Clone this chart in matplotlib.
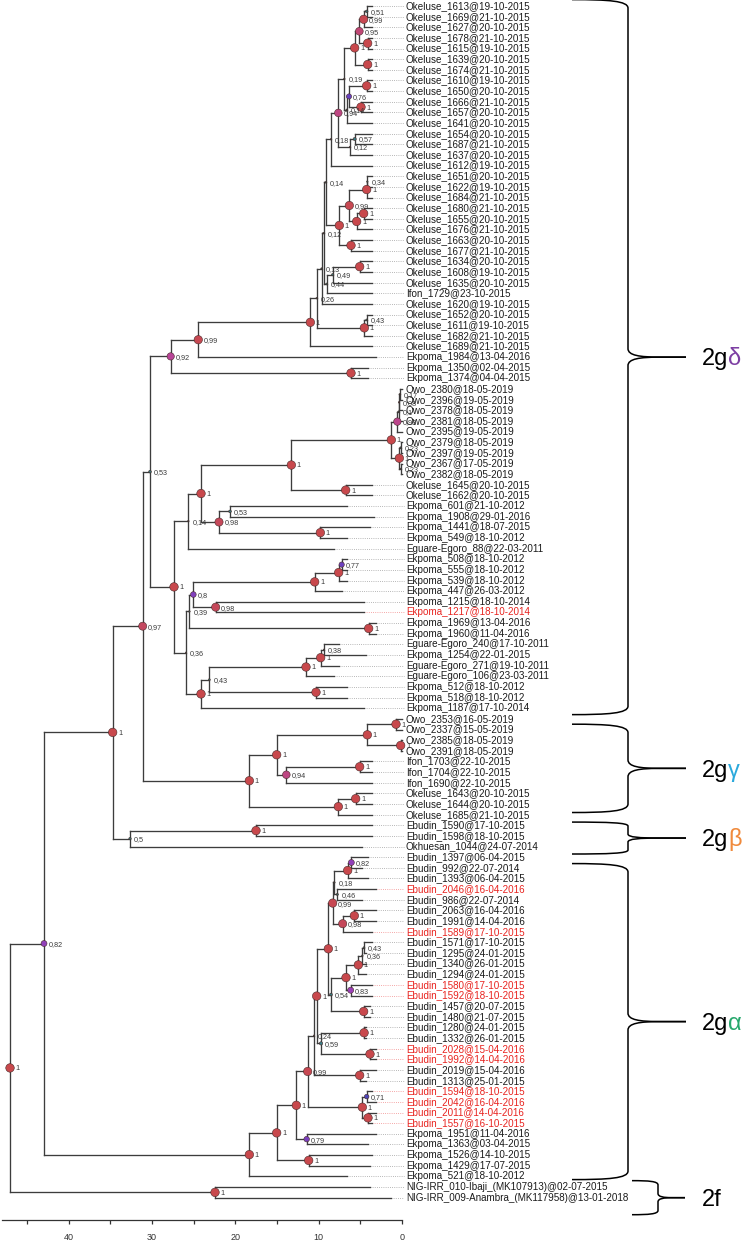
import matplotlib
matplotlib.use("Agg")
import matplotlib.pyplot as plt
import matplotlib.transforms as mtransforms
from matplotlib.collections import LineCollection
from matplotlib.colors import LinearSegmentedColormap
from matplotlib.patches import PathPatch
from matplotlib.path import Path
from datetime import date

plt.rcParams['font.family'] = ['Liberation Sans', 'DejaVu Sans']

# ---- tips, top to bottom ----
tips = [
    "Okeluse_1613@19-10-2015", "Okeluse_1669@21-10-2015", "Okeluse_1627@20-10-2015",
    "Okeluse_1678@21-10-2015", "Okeluse_1615@19-10-2015", "Okeluse_1639@20-10-2015",
    "Okeluse_1674@21-10-2015", "Okeluse_1610@19-10-2015", "Okeluse_1650@20-10-2015",
    "Okeluse_1666@21-10-2015", "Okeluse_1657@20-10-2015", "Okeluse_1641@20-10-2015",
    "Okeluse_1654@20-10-2015", "Okeluse_1687@21-10-2015", "Okeluse_1637@20-10-2015",
    "Okeluse_1612@19-10-2015", "Okeluse_1651@20-10-2015", "Okeluse_1622@19-10-2015",
    "Okeluse_1684@21-10-2015", "Okeluse_1680@21-10-2015", "Okeluse_1655@20-10-2015",
    "Okeluse_1676@21-10-2015", "Okeluse_1663@20-10-2015", "Okeluse_1677@21-10-2015",
    "Okeluse_1634@20-10-2015", "Okeluse_1608@19-10-2015", "Okeluse_1635@20-10-2015",
    "Ifon_1729@23-10-2015", "Okeluse_1620@19-10-2015", "Okeluse_1652@20-10-2015",
    "Okeluse_1611@19-10-2015", "Okeluse_1682@21-10-2015", "Okeluse_1689@21-10-2015",
    "Ekpoma_1984@13-04-2016", "Ekpoma_1350@02-04-2015", "Ekpoma_1374@04-04-2015",
    "Owo_2380@18-05-2019", "Owo_2396@19-05-2019", "Owo_2378@18-05-2019",
    "Owo_2381@18-05-2019", "Owo_2395@19-05-2019", "Owo_2379@18-05-2019",
    "Owo_2397@19-05-2019", "Owo_2367@17-05-2019", "Owo_2382@18-05-2019",
    "Okeluse_1645@20-10-2015", "Okeluse_1662@20-10-2015", "Ekpoma_601@21-10-2012",
    "Ekpoma_1908@29-01-2016", "Ekpoma_1441@18-07-2015", "Ekpoma_549@18-10-2012",
    "Eguare-Egoro_88@22-03-2011", "Ekpoma_508@18-10-2012", "Ekpoma_555@18-10-2012",
    "Ekpoma_539@18-10-2012", "Ekpoma_447@26-03-2012", "Ekpoma_1215@18-10-2014",
    "Ekpoma_1217@18-10-2014", "Ekpoma_1969@13-04-2016", "Ekpoma_1960@11-04-2016",
    "Eguare-Egoro_240@17-10-2011", "Ekpoma_1254@22-01-2015", "Eguare-Egoro_271@19-10-2011",
    "Eguare-Egoro_106@23-03-2011", "Ekpoma_512@18-10-2012", "Ekpoma_518@18-10-2012",
    "Ekpoma_1187@17-10-2014", "Owo_2353@16-05-2019", "Owo_2337@15-05-2019",
    "Owo_2385@18-05-2019", "Owo_2391@18-05-2019", "Ifon_1703@22-10-2015",
    "Ifon_1704@22-10-2015", "Ifon_1690@22-10-2015", "Okeluse_1643@20-10-2015",
    "Okeluse_1644@20-10-2015", "Okeluse_1685@21-10-2015", "Ebudin_1590@17-10-2015",
    "Ebudin_1598@18-10-2015", "Okhuesan_1044@24-07-2014", "Ebudin_1397@06-04-2015",
    "Ebudin_992@22-07-2014", "Ebudin_1393@06-04-2015", "Ebudin_2046@16-04-2016",
    "Ebudin_986@22-07-2014", "Ebudin_2063@16-04-2016", "Ebudin_1991@14-04-2016",
    "Ebudin_1589@17-10-2015", "Ebudin_1571@17-10-2015", "Ebudin_1295@24-01-2015",
    "Ebudin_1340@26-01-2015", "Ebudin_1294@24-01-2015", "Ebudin_1580@17-10-2015",
    "Ebudin_1592@18-10-2015", "Ebudin_1457@20-07-2015", "Ebudin_1480@21-07-2015",
    "Ebudin_1280@24-01-2015", "Ebudin_1332@26-01-2015", "Ebudin_2028@15-04-2016",
    "Ebudin_1992@14-04-2016", "Ebudin_2019@15-04-2016", "Ebudin_1313@25-01-2015",
    "Ebudin_1594@18-10-2015", "Ebudin_2042@16-04-2016", "Ebudin_2011@14-04-2016",
    "Ebudin_1557@16-10-2015", "Ekpoma_1951@11-04-2016", "Ekpoma_1363@03-04-2015",
    "Ekpoma_1526@14-10-2015", "Ekpoma_1429@17-07-2015", "Ekpoma_521@18-10-2012",
    "NIG-IRR_010-Ibaji_(MK107913)@02-07-2015", "NIG-IRR_009-Anambra_(MK117958)@13-01-2018",
]

red_tips = {
    "Ekpoma_1217@18-10-2014", "Ebudin_2046@16-04-2016", "Ebudin_1589@17-10-2015",
    "Ebudin_1580@17-10-2015", "Ebudin_1592@18-10-2015", "Ebudin_2028@15-04-2016",
    "Ebudin_1992@14-04-2016", "Ebudin_1594@18-10-2015", "Ebudin_2042@16-04-2016",
    "Ebudin_2011@14-04-2016", "Ebudin_1557@16-10-2015",
}

# ---- internal nodes: children (tip index or node id), age in years, posterior ----
node_children = {
    # 2g delta, Okeluse block
    "A": (0, 1), "B": ("A", 2), "C": (3, 4), "D": ("B", "C"), "E": (5, 6), "F": ("D", "E"),
    "G": (7, 8), "H": (9, 10), "I": ("G", "H"), "L": ("I", 11), "K": ("F", "L"),
    "N": (12, 13), "N2": ("N", 14), "P94": ("K", "N2"), "P18": ("P94", 15),
    "T": (16, 17), "R": ("T", 18), "U": (19, 20), "S": ("U", 21), "P99": ("R", "S"),
    "Q": (22, 23), "M1": ("P99", "Q"), "P14": ("P18", "M1"),
    "V": (24, 25), "P49": ("V", 26), "P44": ("P49", 27), "Y": ("P14", "P44"), "X": ("Y", 28),
    "AA": (29, 30), "Z": ("AA", 31), "W": ("X", "Z"), "BB": ("W", 32), "CC": ("BB", 33),
    "DD": (34, 35), "EE": ("CC", "DD"),
    # 2g delta, Owo / Ekpoma block
    "n3": (36, 37), "n2": ("n3", 38), "n1": ("n2", 39), "O1": ("n1", 40),
    "n4": (41, 42), "n5": (43, 44), "O2": ("n4", "n5"), "O3": ("O1", "O2"),
    "K1": (45, 46), "O4": ("O3", "K1"), "E53": (47, 48), "E1": (49, 50), "E98": ("E53", "E1"),
    "M2": ("O4", "E98"), "M14": ("M2", 51),
    "E77": (52, 53), "E1b": ("E77", 54), "E1c": ("E1b", 55), "E98b": (56, 57),
    "E8": ("E1c", "E98b"), "E1d": (58, 59), "E39": ("E8", "E1d"),
    "G38": (60, 61), "G1": ("G38", 62), "G1b": ("G1", 63), "E1e": (64, 65),
    "G43": ("G1b", "E1e"), "G1c": ("G43", 66), "M36": ("E39", "G1c"), "M1b": ("M14", "M36"),
    "R53": ("EE", "M1b"),
    # 2g gamma
    "W1": (67, 68), "W2": (69, 70), "W3": ("W1", "W2"), "I1": (71, 72), "I94": ("I1", 73),
    "W4": ("W3", "I94"), "K2": (74, 75), "K3": ("K2", 76), "GM": ("W4", "K3"),
    "R97": ("R53", "GM"),
    # 2g beta
    "B1": (77, 78), "B5": ("B1", 79), "R1": ("R97", "B5"),
    # 2g alpha
    "a82": (80, 81), "a1": ("a82", 82), "a46": (83, 84), "a18": ("a1", "a46"),
    "a1b": (85, 86), "a98": ("a1b", 87), "a99": ("a18", "a98"),
    "a43": (88, 89), "a36": ("a43", 90), "a1c": ("a36", 91), "a83": (92, 93),
    "a1d": ("a1c", "a83"), "a1e": (94, 95), "a54": ("a1d", "a1e"), "a1f": ("a99", "a54"),
    "a1g": (96, 97), "a1h": (98, 99), "a59": ("a1g", "a1h"), "a1i": ("a1f", "a59"),
    "a1j": (100, 101), "a24": ("a1i", "a1j"), "a71": (102, 103), "a1k": (104, 105),
    "a1l": ("a71", "a1k"), "a99b": ("a24", "a1l"), "a79": (106, 107), "a1m": ("a99b", "a79"),
    "a1n": (108, 109), "a1o": ("a1m", "a1n"), "a1p": ("a1o", 110),
    "R82": ("R1", "a1p"),
    # 2f
    "NIG": (111, 112), "ROOT": ("R82", "NIG"),
}

node_height = {
    "A": 4.24, "B": 4.60, "C": 4.12, "D": 5.12, "E": 4.12, "F": 5.68, "G": 4.24, "H": 4.92,
    "I": 6.36, "L": 6.64, "K": 6.92, "N": 5.68, "N2": 6.24, "P94": 7.64, "P18": 8.52,
    "T": 4.16, "R": 4.24, "U": 4.60, "S": 5.44, "P99": 6.32, "Q": 6.12, "M1": 7.52,
    "P14": 9.18, "V": 5.08, "P49": 8.32, "P44": 9.04, "Y": 9.42, "X": 9.66, "AA": 4.24,
    "Z": 4.52, "W": 10.24, "BB": 11.0, "CC": 24.45, "DD": 6.12, "EE": 27.76,
    "n3": 0.26, "n2": 0.36, "n1": 0.42, "O1": 0.56, "n4": 0.18, "n5": 0.18, "O2": 0.32,
    "O3": 1.28, "K1": 6.76, "O4": 13.28, "E53": 20.64, "E1": 9.80, "E98": 21.96,
    "M2": 24.12, "M14": 25.64, "E77": 7.24, "E1b": 7.60, "E1c": 10.48, "E98b": 22.36,
    "E8": 25.04, "E1d": 4.00, "E39": 25.52, "G38": 9.36, "G1": 9.76, "G1b": 11.52,
    "E1e": 10.32, "G43": 23.12, "G1c": 24.12, "M36": 25.92, "M1b": 27.36, "R53": 30.24,
    "W1": 0.72, "W2": 0.16, "W3": 4.16, "I1": 5.08, "I94": 13.88, "W4": 15.04,
    "K2": 5.56, "K3": 7.64, "GM": 18.32, "R97": 31.12,
    "B1": 17.52, "B5": 32.64, "R1": 34.72,
    "a82": 6.08, "a1": 6.52, "a46": 7.76, "a18": 8.12, "a1b": 5.72, "a98": 7.12,
    "a99": 8.32, "a43": 4.56, "a36": 4.76, "a1c": 5.24, "a83": 6.16, "a1d": 6.72,
    "a1e": 4.60, "a54": 8.52, "a1f": 8.84, "a1g": 4.55, "a1h": 3.84, "a59": 9.72,
    "a1i": 10.24, "a1j": 5.08, "a24": 10.56, "a71": 4.24, "a1k": 4.08, "a1l": 4.76,
    "a99b": 11.32, "a79": 11.44, "a1m": 12.68, "a1n": 11.20, "a1o": 15.04, "a1p": 18.32,
    "R82": 42.96, "NIG": 22.44, "ROOT": 47.04,
}

node_post = {
    "A": 0.51, "B": 0.99, "C": 1, "D": 0.95, "E": 1, "F": 1, "G": 1, "H": 1, "I": 0.76,
    "L": 0.14, "K": 0.19, "N": 0.57, "N2": 0.12, "P94": 0.94, "P18": 0.18, "T": 0.34,
    "R": 1, "U": 1, "S": 1, "P99": 0.99, "Q": 1, "M1": 1, "P14": 0.14, "V": 1,
    "P49": 0.49, "P44": 0.44, "Y": 0.12, "X": 0.13, "AA": 0.43, "Z": 1, "W": 0.26,
    "BB": 1, "CC": 0.99, "DD": 1, "EE": 0.92,
    "n3": 0.17, "n2": 0.08, "n1": 0.1, "O1": 0.93, "n4": 0.23, "n5": 0.23, "O2": 1,
    "O3": 1, "K1": 1, "O4": 1, "E53": 0.53, "E1": 1, "E98": 0.98, "M2": 1, "M14": 0.14,
    "E77": 0.77, "E1b": 1, "E1c": 1, "E98b": 0.98, "E8": 0.8, "E1d": 1, "E39": 0.39,
    "G38": 0.38, "G1": 1, "G1b": 1, "E1e": 1, "G43": 0.43, "G1c": 1, "M36": 0.36,
    "M1b": 1, "R53": 0.53,
    "W1": 1, "W2": 1, "W3": 1, "I1": 1, "I94": 0.94, "W4": 1, "K2": 1, "K3": 1, "GM": 1,
    "R97": 0.97, "B1": 1, "B5": 0.5, "R1": 1,
    "a82": 0.82, "a1": 1, "a46": 0.46, "a18": 0.18, "a1b": 1, "a98": 0.98, "a99": 0.99,
    "a43": 0.43, "a36": 0.36, "a1c": 1, "a83": 0.83, "a1d": 1, "a1e": 1, "a54": 0.54,
    "a1f": 1, "a1g": 1, "a1h": 1, "a59": 0.59, "a1i": 1, "a1j": 1, "a24": 0.24,
    "a71": 0.71, "a1k": 1, "a1l": 1, "a99b": 0.99, "a79": 0.79, "a1m": 1, "a1n": 1,
    "a1o": 1, "a1p": 1, "R82": 0.82, "NIG": 1, "ROOT": 1,
}

axis_major = [0, 10, 20, 30, 40]
axis_minor = [5, 15, 25, 35, 45]

clade_prefix = ["2g", "2g", "2g", "2g", "2f"]
clade_greek = ["δ", "γ", "β", "α", ""]
clade_greek_color = ["#7d3fa3", "#2aa9dc", "#f08a3c", "#27a86c", "black"]
brace_top = [-0.6, 67.5, 76.7, 80.6, 110.4]      # in tip rows
brace_bottom = [66.6, 75.8, 79.7, 110.3, 113.6]

# layout (pixels of the 750x1241 canvas)
W_PX, H_PX = 750, 1241
PX_PER_YEAR = 8.333
ZERO_PX = 402
ROW0_PX, ROW_PX = 6, 10.64


def tip_ages():
    dates = []
    for t in tips:
        d, m, y = t.split("@")[1].split("-")
        dates.append(date(int(y), int(m), int(d)))
    latest = max(dates)
    return [(latest - d).days / 365.25 for d in dates]


def plot_tree():
    ages = tip_ages()

    def age(ref):
        return ages[ref] if isinstance(ref, int) else node_height[ref]

    ycache = {}

    def ypos(ref):
        if isinstance(ref, int):
            return float(ref)
        if ref not in ycache:
            a, b = node_children[ref]
            ycache[ref] = (ypos(a) + ypos(b)) / 2
        return ycache[ref]

    fig = plt.figure(figsize=(W_PX / 100, H_PX / 100), dpi=100)
    ax = fig.add_axes([0, 0, 1, 1])
    ax.set_axis_off()
    ax.set_xlim(ZERO_PX / PX_PER_YEAR, -(W_PX - ZERO_PX) / PX_PER_YEAR)
    ax.set_ylim((H_PX - ROW0_PX) / ROW_PX, -ROW0_PX / ROW_PX)

    # branches
    segs = []
    for nid, (a, b) in node_children.items():
        h = node_height[nid]
        segs.append([(h, ypos(a)), (h, ypos(b))])
        for c in (a, b):
            segs.append([(h, ypos(c)), (age(c), ypos(c))])
    ax.add_collection(LineCollection(segs, colors="#3c3c3c", linewidths=0.95,
                                     capstyle="projecting", zorder=2))

    # dotted guides + tip labels
    label_x = -4 / PX_PER_YEAR
    dot_end = -2 / PX_PER_YEAR
    for i, t in enumerate(tips):
        red = t in red_tips
        ax.plot([ages[i], dot_end], [i, i], ls=(0, (1, 1.6)), lw=0.6,
                color="#f28a8a" if red else "#a0a0a0", zorder=1)
        ax.text(label_x, i, t, fontsize=7.1, va="center", ha="left",
                color="#e8231f" if red else "#1a1a1a")

    # node circles, colour and size by posterior
    cmap = LinearSegmentedColormap.from_list("post", [
        (0.0, "#2a4a40"), (0.45, "#2f6a60"), (0.6, "#3a7f8a"), (0.7, "#4848b8"),
        (0.78, "#7040c0"), (0.83, "#9a40b8"), (0.92, "#b8449a"), (0.97, "#c44862"),
        (1.0, "#c8484c")])
    xs, ys, sizes, cols = [], [], [], []
    for nid in node_children:
        p = float(node_post[nid])
        d_px = max(8.5 * p ** 1.8, 1.5)
        xs.append(node_height[nid])
        ys.append(ypos(nid))
        sizes.append((d_px * 0.72) ** 2)
        cols.append(cmap(p))
        lab = "1" if p == 1 else ("%.2f" % p).rstrip("0").replace(".", ",")
        off = max(d_px / 2 + 1.3, 4.0) * 0.72
        ax.annotate(lab, (node_height[nid], ypos(nid)), xytext=(off, -0.7),
                    textcoords="offset points", fontsize=5.2, va="center",
                    ha="left", color="#3a3a3a", zorder=4)
    ax.scatter(xs, ys, s=sizes, c=cols, edgecolors="#4a2a2a", linewidths=0.4, zorder=3)

    # clade braces and names
    tr = mtransforms.blended_transform_factory(ax.transAxes, ax.transData)
    for k in range(len(clade_prefix)):
        top, bot = brace_top[k], brace_bottom[k]
        if clade_prefix[k] == "2f":
            xl, xv, xt = 632 / W_PX, 658 / W_PX, 685 / W_PX
        else:
            xl, xv, xt = 572 / W_PX, 628 / W_PX, 686 / W_PX
        mid = (top + bot) / 2
        r = min(0.8, (bot - top) / 8)
        for sgn, end in ((1, top), (-1, bot)):
            verts = [(xl, end),
                     (xl + 0.65 * (xv - xl), end), (xv, end + sgn * 0.15 * r),
                     (xv, end + sgn * r),
                     (xv, mid - sgn * r),
                     (xv, mid - sgn * 0.2 * r), (xv + 0.2 * (xt - xv), mid),
                     (xv + 0.55 * (xt - xv), mid),
                     (xt, mid)]
            codes = [Path.MOVETO, Path.CURVE4, Path.CURVE4, Path.CURVE4, Path.LINETO,
                     Path.CURVE4, Path.CURVE4, Path.CURVE4, Path.LINETO]
            ax.add_patch(PathPatch(Path(verts, codes), fill=False, lw=1.1,
                                   ec="black", transform=tr))
        base = mid + 8.3 / ROW_PX
        if clade_greek[k]:
            ax.text(728 / W_PX, base, clade_prefix[k], transform=tr, fontsize=17,
                    ha="right", va="baseline", color="black")
            ax.text(728 / W_PX, base, clade_greek[k], transform=tr, fontsize=17,
                    ha="left", va="baseline", color=clade_greek_color[k])
        else:
            ax.text(702 / W_PX, base, clade_prefix[k], transform=tr, fontsize=17,
                    ha="left", va="baseline", color="black")

    # time axis
    ax2 = fig.add_axes([2 / W_PX, (H_PX - 1220) / H_PX, (ZERO_PX - 2) / W_PX, 0.0005])
    ax2.patch.set_visible(False)
    for s in ("top", "left", "right"):
        ax2.spines[s].set_visible(False)
    ax2.spines["bottom"].set_color("#333333")
    ax2.spines["bottom"].set_linewidth(0.9)
    ax2.set_xlim(48, 0)
    ax2.set_yticks([])
    ax2.set_xticks(axis_major)
    ax2.set_xticks(axis_minor, minor=True)
    ax2.tick_params(axis="x", which="both", direction="out", length=3, width=0.9,
                    color="#333333", labelsize=6.5, labelcolor="#333333", pad=6)

    fig.savefig("out.png", dpi=100)


if __name__ == "__main__":
    plot_tree()
